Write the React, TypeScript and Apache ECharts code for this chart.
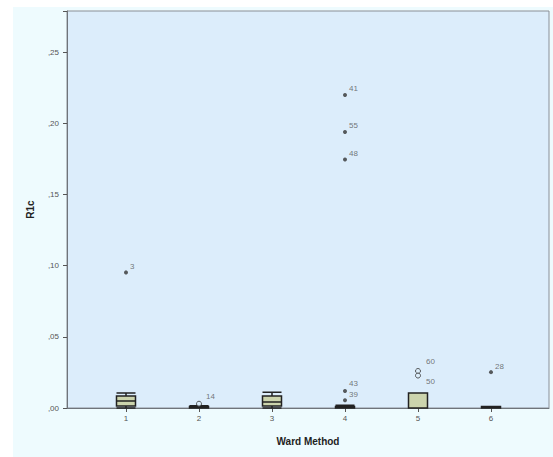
import React, { useEffect, useRef } from "react";
import * as echarts from "echarts";

const categories = ["1", "2", "3", "4", "5", "6"];
// [min, Q1, median, Q3, max]
const boxValues = [
  [0, 0.0014, 0.005, 0.0084, 0.0105],
  [0, 0, 0.0005, 0.001, 0.0015],
  [0, 0.0014, 0.0042, 0.0084, 0.011],
  [0, 0, 0.0005, 0.001, 0.002],
  [0, 0, 0, 0.0105, 0.0105],
  [0, 0, 0.0005, 0.001, 0.001],
];
// extremes (stars): [categoryIndex, value, caseLabel]
const extremes: [number, number, string][] = [
  [0, 0.0953, "3"],
  [3, 0.22, "41"],
  [3, 0.194, "55"],
  [3, 0.1746, "48"],
  [3, 0.012, "43"],
  [3, 0.0055, "39"],
  [5, 0.0252, "28"],
];
// outliers (circles)
const outliers: [number, number, string][] = [
  [1, 0.003, "14"],
  [4, 0.026, "60"],
  [4, 0.0228, "50"],
];
const yTicks = [0, 0.05, 0.1, 0.15, 0.2, 0.25];

const FONT = "'Liberation Sans', Arial, sans-serif";

export default function App() {
  const ref = useRef<HTMLDivElement>(null);
  useEffect(() => {
    if (!ref.current) return;
    const chart = echarts.init(ref.current, null, { renderer: "svg" });
    const labelFor = (name: string) => {
      let offset = [0, -6];
      if (name === "50") offset = [3, 6];
      if (name === "60") offset = [3, -10];
      if (name === "39") offset = [0, -6];
      if (name === "43") offset = [0, -7];
      if (name === "14") offset = [2, -7];
      return {
        show: true,
        formatter: name,
        position: "right",
        distance: 2,
        offset,
        fontSize: 8,
        color: "#555555",
        fontFamily: FONT,
      };
    };
    chart.setOption({
      animation: false,
      backgroundColor: "#ffffff",
      graphic: [
        {
          type: "rect",
          z: -100,
          shape: { x: 13, y: 7, width: 540, height: 450 },
          style: { fill: "#eefbfe" },
          silent: true,
        },
      ],
      grid: [
        {
          left: 67,
          top: 11,
          right: 4,
          bottom: 49,
          show: true,
          backgroundColor: "#dcedfb",
          borderColor: "#8a8f96",
          borderWidth: 1,
        },
        { left: 89.5, right: 25.5, top: 11, bottom: 49 },
      ],
      xAxis: [
        {
          gridIndex: 0,
          type: "value",
          min: 0,
          max: 1,
          axisLine: { show: true, lineStyle: { color: "#6f747a" } },
          axisTick: { show: false },
          axisLabel: { show: false },
          splitLine: { show: false },
          name: "Ward Method",
          nameLocation: "middle",
          nameGap: 28,
          nameTextStyle: { fontSize: 10, fontWeight: "bold", color: "#222", fontFamily: FONT },
        },
        {
          gridIndex: 1,
          type: "category",
          data: categories,
          boundaryGap: true,
          axisLine: { show: false },
          axisTick: { show: true, alignWithLabel: true, length: 4, lineStyle: { color: "#555" } },
          axisLabel: { fontSize: 8, color: "#555", margin: 6, fontFamily: FONT },
          splitLine: { show: false },
        },
      ],
      yAxis: [
        {
          gridIndex: 0,
          type: "value",
          min: 0,
          max: 0.279,
          interval: 0.05,
          axisLine: { show: true, lineStyle: { color: "#6f747a" } },
          axisTick: { show: true, length: 4, lineStyle: { color: "#555" } },
          axisLabel: {
            fontSize: 8,
            color: "#555",
            margin: 8,
            fontFamily: FONT,
            formatter: (v: number) => (yTicks.some((t) => Math.abs(t - v) < 1e-9) ? v.toFixed(2).replace("0.", ",") : ""),
          },
          splitLine: { show: false },
          name: "R1c",
          nameLocation: "middle",
          nameGap: 32,
          nameRotate: 90,
          nameTextStyle: { fontSize: 10, fontWeight: "bold", color: "#222", fontFamily: FONT },
        },
        {
          gridIndex: 1,
          type: "value",
          min: 0,
          max: 0.279,
          show: false,
        },
      ],
      series: [
        {
          type: "boxplot",
          xAxisIndex: 1,
          yAxisIndex: 1,
          data: boxValues,
          boxWidth: [19, 19],
          itemStyle: { color: "#ccd4ad", borderColor: "#222", borderWidth: 1.5 },
        },
        {
          type: "scatter",
          xAxisIndex: 1,
          yAxisIndex: 1,
          symbol: "circle",
          symbolSize: 4,
          itemStyle: { color: "#333" },
          data: extremes.map(([c, v, n]) => ({ value: [c, v], label: labelFor(n) })),
        },
        {
          type: "scatter",
          xAxisIndex: 1,
          yAxisIndex: 1,
          symbol: "circle",
          symbolSize: 5,
          itemStyle: { color: "#dcedfb", borderColor: "#333", borderWidth: 1 },
          data: outliers.map(([c, v, n]) => ({ value: [c, v], label: labelFor(n) })),
        },
      ],
    });
    return () => chart.dispose();
  }, []);
  return (
    <div
      ref={ref}
      style={{ position: "fixed", left: 0, top: 0, width: 553, height: 457 }}
    />
  );
}
